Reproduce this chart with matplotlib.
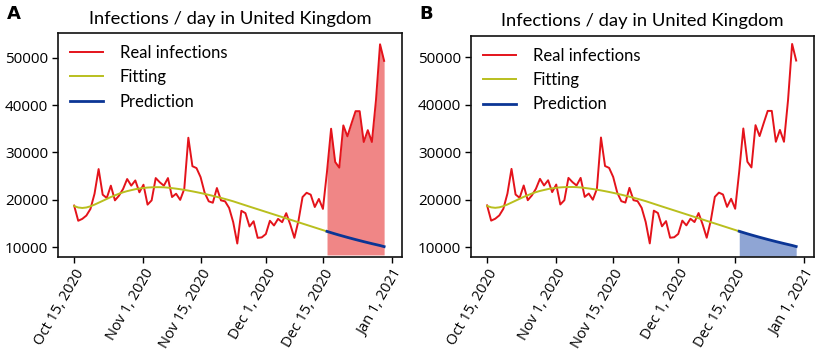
import matplotlib
matplotlib.use("Agg")
import matplotlib.pyplot as plt
import matplotlib.dates as mdates
import pandas as pd
import numpy as np

plt.rcParams['font.family'] = ['Open Sans', 'DejaVu Sans']

start_date = "2020-10-15"
n_days = 77
pred_start_idx = 62

real_infections = [
    18800, 15600, 16000, 16700, 18100, 21300, 26500, 21100, 20400, 23000,
    19900, 20900, 22300, 24400, 23000, 24100, 21600, 23200, 19000, 19900,
    24600, 23700, 23000, 24600, 20600, 21300, 20000, 22300, 33100, 27100,
    26700, 24800, 21500, 19700, 19400, 22500, 19900, 19700, 18300, 15300,
    10800, 17700, 17200, 14400, 15500, 12000, 12100, 12800, 15600, 14600,
    16000, 15300, 17200, 14800, 12000, 15600, 20600, 21500, 21100, 18500,
    20200, 18100, 26000, 35000, 28000, 26800, 35700, 33400, 36100, 38700,
    38700, 32200, 34700, 32200, 41000, 52800, 49300,
]

fitting = [
    18700, 18400, 18300, 18400, 18650, 19000, 19400, 19800, 20200, 20600,
    20950, 21300, 21600, 21850, 22050, 22250, 22400, 22520, 22600, 22650,
    22680, 22680, 22650, 22580, 22480, 22370, 22250, 22110, 21960, 21800,
    21630, 21450, 21260, 21060, 20850, 20640, 20420, 20190, 19950, 19700,
    19420, 19140, 18860, 18580, 18305, 18030, 17755, 17480, 17205, 16930,
    16655, 16380, 16105, 15830, 15555, 15280, 15005, 14730, 14455, 14180,
    13905, 13630, 13355,
]

prediction = [
    13355, 13090, 12830, 12580, 12340, 12100, 11870, 11640, 11420, 11200,
    10990, 10780, 10580, 10380, 10150,
]

tick_labels = ["Oct 15, 2020", "Nov 1, 2020", "Nov 15, 2020",
               "Dec 1, 2020", "Dec 15, 2020", "Jan 1, 2021"]
tick_dates = ["2020-10-15", "2020-11-01", "2020-11-15",
              "2020-12-01", "2020-12-15", "2021-01-01"]
yticks = [10000, 20000, 30000, 40000, 50000]

dates = pd.date_range(start_date, periods=n_days, freq="D")
fit_dates = dates[:pred_start_idx + 1]
pred_dates = dates[pred_start_idx:]

fig = plt.figure(figsize=(8.29, 3.54), dpi=100)

panels = [
    dict(label="A", rect=[0.0700, 0.2749, 0.4150, 0.6310], ylim=(8030, 55110),
         fill="real", fill_base=8400, fill_color="#f08686"),
    dict(label="B", rect=[0.5682, 0.2749, 0.4138, 0.6230], ylim=(8010, 54440),
         fill="pred", fill_base=8100, fill_color="#8fa5d4"),
]

red = "#e4131b"
olive = "#b9bf1e"
navy = "#0b3595"
text_font = ['Lato', 'DejaVu Sans']

for p in panels:
    ax = fig.add_axes(p["rect"])
    ax.plot(dates, real_infections, color=red, lw=1.4, label="Real infections", zorder=3)
    ax.plot(fit_dates, fitting, color=olive, lw=1.4, label="Fitting", zorder=3)
    ax.plot(pred_dates, prediction, color=navy, lw=2.0, label="Prediction", zorder=4)
    if p["fill"] == "real":
        ax.fill_between(pred_dates, p["fill_base"], real_infections[pred_start_idx:],
                        color=p["fill_color"], lw=0, zorder=1)
    else:
        ax.fill_between(pred_dates, p["fill_base"], prediction,
                        color=p["fill_color"], lw=0, zorder=1)
    x0 = mdates.date2num(pd.Timestamp(start_date))
    ax.set_xlim(x0 - 3.95, x0 + 80.4)
    ax.set_ylim(*p["ylim"])
    ax.set_yticks(yticks)
    ax.set_yticklabels([str(v) for v in yticks], fontsize=11)
    ax.set_xticks([mdates.date2num(pd.Timestamp(d)) for d in tick_dates])
    ax.set_xticklabels(tick_labels, rotation=60, ha="right",
                       rotation_mode="anchor", fontsize=10.5)
    ax.tick_params(axis="both", direction="out", length=4, width=1.0, pad=3)
    for s in ax.spines.values():
        s.set_linewidth(1.2)
        s.set_color("#111111")
    ax.set_title("Infections / day in United Kingdom", fontsize=13.2, pad=7,
                 family=text_font)
    leg = ax.legend(loc="upper left", frameon=False,
                    prop={'family': text_font, 'size': 12},
                    handlelength=2.0, handletextpad=1.0, labelspacing=0.5,
                    borderaxespad=0.3)
    bb = p["rect"]
    fig.text(bb[0] - 0.062, 0.985, p["label"], fontsize=13, fontweight="bold",
             ha="left", va="top", family="DejaVu Sans")

fig.savefig("out.png", dpi=100)
